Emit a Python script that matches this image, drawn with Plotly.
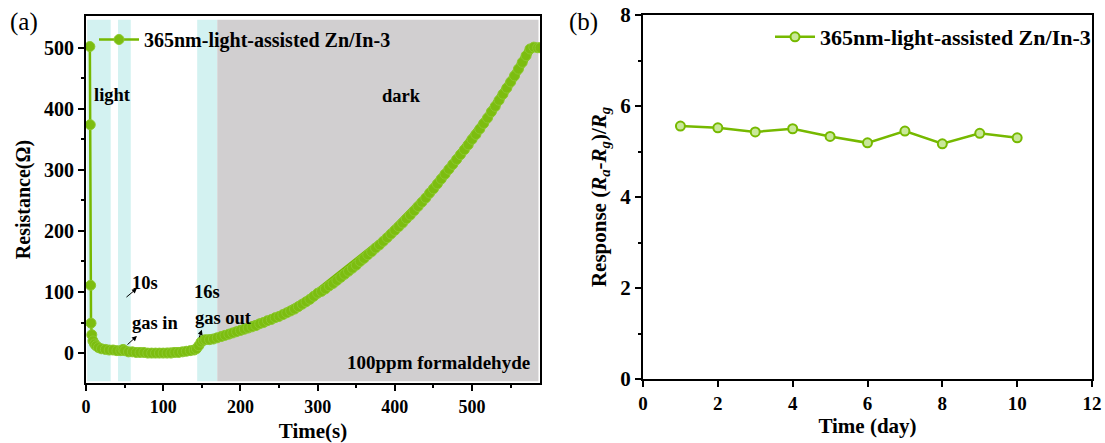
import plotly.graph_objects as go

# ---------------- data ----------------
# panel (a): resistance vs time
time_a = [5, 5.5, 6, 6.5, 7.5, 9, 11, 13, 16, 20, 25, 30, 35, 40, 45, 48, 50, 55, 60, 65,
          70, 75, 80, 85, 90, 95, 100, 105, 110, 115, 120, 125, 130, 135, 140, 143, 146,
          149, 152, 155, 160, 165,
          170, 175, 180, 185, 190, 195, 200, 205, 210, 215, 220, 225, 230, 235, 240, 245,
          250, 255, 260, 265, 270, 275, 280, 285, 290, 295, 300, 305, 310, 315, 320, 325,
          330, 335, 340, 345, 350, 355, 360, 365, 370, 375, 380, 385, 390, 395, 400, 405,
          410, 415, 420, 425, 430, 435, 440, 445, 450, 455, 460, 465, 470, 475, 480, 485,
          490, 495, 500, 505, 510, 515, 520, 525, 530, 535, 540, 545, 550, 555, 560, 565,
          570, 575, 580, 585, 588]
res_a = [502, 374, 111, 49, 30, 20, 15, 12, 9, 7, 6, 5, 5, 4, 4, 6, 4, 2, 2, 1,
         1, 1, 0, 0, 0, 0, 0, 0, 0, 1, 1, 2, 3, 4, 5, 7, 12,
         18, 21, 22, 22, 23,
         25, 27, 29, 31, 33, 35, 37, 39, 41, 43, 45, 48, 50, 53, 55, 58,
         60, 63, 66, 69, 72, 76, 80, 84, 88, 93, 98, 101, 105, 110, 114, 119,
         124, 129, 134, 139, 144, 150, 155, 161, 166, 172, 177, 183, 189, 195, 201, 207,
         213, 220, 226, 233, 240, 247, 254, 262, 269, 277, 285, 293, 301, 309, 317, 325,
         333, 341, 350, 358, 367, 376, 385, 395, 404, 414, 424, 434, 444, 454, 465, 476,
         487, 498, 501, 500, 500]

# illuminated (light) intervals and dark interval, seconds
light_start = [1.5, 41.5, 144]
light_end = [32, 58, 170]
dark_start = [170]
dark_end = [586]

# panel (b): response vs day
days_b = [1, 2, 3, 4, 5, 6, 7, 8, 9, 10]
resp_b = [5.56, 5.52, 5.43, 5.5, 5.33, 5.19, 5.45, 5.17, 5.4, 5.3]

series_name = "365nm-light-assisted Zn/In-3"

# ---------------- style ----------------
GREEN = "#76b900"
CYAN = "#d3f2f1"
GRAY = "#d1cfd0"
FONT = "Liberation Serif"

W, H = 1105, 443


def px(x):
    return x / W


def py(y):
    return 1 - y / H


fig = go.Figure()

# thick band of densely overlapping points (after the initial sharp drop)
fig.add_trace(go.Scatter(
    x=time_a[5:], y=res_a[5:], mode="lines", showlegend=False, hoverinfo="skip",
    line=dict(color=GREEN, width=9), xaxis="x", yaxis="y"))

fig.add_trace(go.Scatter(
    x=time_a, y=res_a, mode="lines+markers", name="<b>" + series_name + "</b>",
    line=dict(color=GREEN, width=2.5),
    marker=dict(size=10, color="#7cbd10", line=dict(color="#8cc92e", width=1)),
    xaxis="x", yaxis="y", legend="legend"))

fig.add_trace(go.Scatter(
    x=days_b, y=resp_b, mode="lines+markers", name="<b>" + series_name + "</b>",
    line=dict(color=GREEN, width=2.5),
    marker=dict(size=9, color="#c9e89a", line=dict(color=GREEN, width=2)),
    xaxis="x2", yaxis="y2", legend="legend2"))

shapes = []
for a, b in zip(light_start, light_end):
    shapes.append(dict(type="rect", xref="x", yref="y", x0=a, x1=b, y0=-46, y1=546,
                       fillcolor=CYAN, line=dict(width=0), layer="below"))
for a, b in zip(dark_start, dark_end):
    shapes.append(dict(type="rect", xref="x", yref="y", x0=a, x1=b, y0=-46, y1=546,
                       fillcolor=GRAY, line=dict(width=0), layer="below"))


def tf(size):
    return dict(family=FONT, size=size, color="black")


minor_style = dict(ticks="outside", ticklen=3, tickwidth=2, tickcolor="black")
axis_common = dict(showgrid=False, zeroline=False, showline=True, linecolor="black",
                   linewidth=2, mirror=True, ticks="outside", ticklen=6, tickwidth=2,
                   tickcolor="black", automargin=False)


def bold(vals):
    return ["<b>%d</b>" % v for v in vals]


xa_ticks = [0, 100, 200, 300, 400, 500]
ya_ticks = [0, 100, 200, 300, 400, 500]
xb_ticks = [0, 2, 4, 6, 8, 10, 12]
yb_ticks = [0, 2, 4, 6, 8]

fig.update_layout(
    width=W, height=H, margin=dict(l=0, r=0, t=0, b=0),
    paper_bgcolor="white", plot_bgcolor="white",
    font=dict(family=FONT, color="black"),
    shapes=shapes,
    xaxis=dict(domain=[px(86), px(540)], range=[0, 588], tickvals=xa_ticks, ticktext=bold(xa_ticks),
               tickfont=tf(18),
               minor=dict(tickvals=[50, 150, 250, 350, 450, 550], **minor_style),
               title=dict(text="<b>Time(s)</b>", font=tf(21), standoff=12),
               anchor="y", **axis_common),
    yaxis=dict(domain=[py(383), py(16)], range=[-49, 552], tickvals=ya_ticks, ticktext=bold(ya_ticks),
               tickfont=tf(20),
               minor=dict(tickvals=[50, 150, 250, 350, 450], **minor_style),
               title=dict(text="<b>Resistance(Ω)</b>", font=tf(20), standoff=8),
               anchor="x", **axis_common),
    xaxis2=dict(domain=[px(643), px(1092)], range=[0, 12], tickvals=xb_ticks, ticktext=bold(xb_ticks),
                tickfont=tf(19),
                title=dict(text="<b>Time (day)</b>", font=tf(21), standoff=2),
                anchor="y2", **axis_common),
    yaxis2=dict(domain=[py(379), py(15)], range=[0, 8], tickvals=yb_ticks, ticktext=bold(yb_ticks),
                tickfont=tf(21),
                minor=dict(tickvals=[1, 3, 5, 7], **minor_style),
                title=dict(text="<b>Response (<i>R</i><sub><i>a</i></sub>-<i>R</i><sub><i>g</i></sub>)/<i>R</i><sub><i>g</i></sub></b>",
                           font=tf(21), standoff=8),
                anchor="x2", **axis_common),
    legend=dict(x=px(94), y=py(20), xanchor="left", yanchor="top", bgcolor="rgba(0,0,0,0)",
                font=tf(20), itemwidth=40, borderwidth=0),
    legend2=dict(x=px(770), y=py(16), xanchor="left", yanchor="top", bgcolor="rgba(0,0,0,0)",
                 font=tf(22), itemwidth=40, borderwidth=0),
    showlegend=True,
)

ann_font = tf(18.5)
anns = [
    dict(text="(a)", x=px(24), y=py(22), xref="paper", yref="paper", xanchor="center", yanchor="middle",
         showarrow=False, font=tf(25)),
    dict(text="(b)", x=px(583), y=py(22), xref="paper", yref="paper", xanchor="center", yanchor="middle",
         showarrow=False, font=tf(25)),
    dict(text="<b>light</b>", x=34, y=423, xref="x", yref="y", showarrow=False, font=ann_font),
    dict(text="<b>dark</b>", x=409, y=421, xref="x", yref="y", showarrow=False, font=ann_font),
    dict(text="<b>10s</b>", x=76, y=115, xref="x", yref="y", showarrow=False, font=ann_font),
    dict(text="<b>gas in</b>", x=89, y=49, xref="x", yref="y", showarrow=False, font=ann_font),
    dict(text="<b>16s</b>", x=157, y=100, xref="x", yref="y", showarrow=False, font=ann_font),
    dict(text="<b>gas out</b>", x=178, y=57, xref="x", yref="y", showarrow=False, font=ann_font),
    dict(text="<b>100ppm formaldehyde</b>", x=578, y=-15, xref="x", yref="y", xanchor="right",
         showarrow=False, font=tf(19)),
    # arrows
    dict(text="", x=66, y=106, xref="x", yref="y", ax=-12, ay=10, showarrow=True,
         arrowhead=2, arrowsize=1, arrowwidth=1, arrowcolor="black"),
    dict(text="", x=66, y=28, xref="x", yref="y", ax=-11, ay=10, showarrow=True,
         arrowhead=2, arrowsize=1, arrowwidth=1, arrowcolor="black"),
    dict(text="", x=150, y=38, xref="x", yref="y", ax=-3, ay=9, showarrow=True,
         arrowhead=2, arrowsize=1, arrowwidth=1, arrowcolor="black"),
]
fig.update_layout(annotations=anns)

fig.write_html(
    "out.html",
    config={"displayModeBar": False},
    post_script="document.body.style.margin='0';document.body.style.overflow='hidden';",
)
